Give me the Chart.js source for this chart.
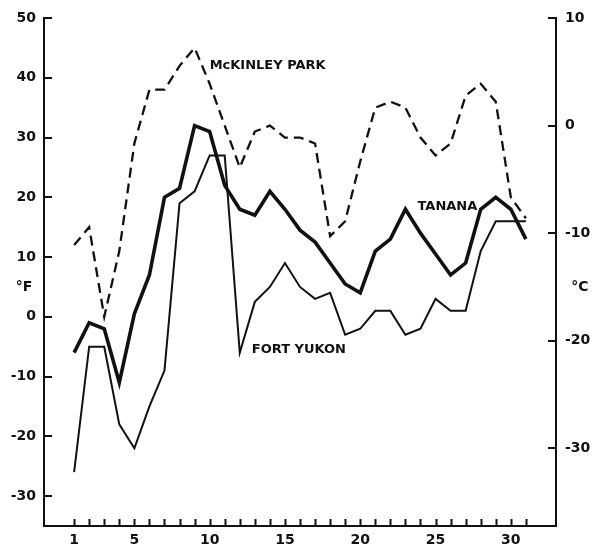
<!DOCTYPE html>
<html>
<head>
<meta charset="utf-8">
<title>Daily temperatures</title>
<script src="https://cdn.jsdelivr.net/npm/chart.js@4.4.1/dist/chart.umd.min.js"></script>
<style>
  html, body { margin: 0; padding: 0; background: #fff; }
  #wrap { width: 594px; height: 548px; }
</style>
</head>
<body>
<div id="wrap"><canvas id="chart" width="594" height="548"></canvas></div>
<script>
// data (°F)
const days = [1, 2, 3, 4, 5, 6, 7, 8, 9, 10, 11, 12, 13, 14, 15, 16, 17, 18, 19, 20, 21, 22, 23, 24, 25, 26, 27, 28, 29, 30, 31];
const mckinleyPark = [12, 15, 0, 11, 29, 38, 38, 42, 45, 39, 32, 25, 31, 32, 30, 30, 29, 13.5, 16, 26, 35, 36, 35, 30, 27, 29, 37, 39, 36, 20, 16.5];
const tanana = [-6, -1, -2, -11, 0.5, 7, 20, 21.5, 32, 31, 22, 18, 17, 21, 18, 14.5, 12.5, 9, 5.5, 4, 11, 13, 18, 14, 10.5, 7, 9, 18, 20, 18, 13];
const fortYukon = [-26, -5, -5, -18, -22, -15, -9, 19, 21, 27, 27, -6, 2.5, 5, 9, 5, 3, 4, -3, -2, 1, 1, -3, -2, 3, 1, 1, 11, 16, 16, 16];

const fTicks = [-30, -20, -10, 0, 10, 20, 30, 40, 50];
const cTicks = [-30, -20, -10, 0, 10];
const dayLabels = [1, 5, 10, 15, 20, 25, 30];

// series names and where they sit (day, °F)
const seriesNames = ["McKINLEY PARK", "TANANA", "FORT YUKON"];
const nameDays = [10.0, 23.8, 12.8];
const nameTemps = [42, 18.4, -5.5];

const fMin = -35, fMax = 50;
const toC = (f) => (f - 32) * 5 / 9;

const FONT = "DejaVu Sans";
const INK = "#111";

function pts(values) {
  return days.map((d, i) => ({ x: d, y: values[i] }));
}

// inward tick marks + text labels
const decorations = {
  id: "decorations",
  afterDraw(chart) {
    const ctx = chart.ctx;
    const area = chart.chartArea;
    const x = chart.scales.x;
    const yF = chart.scales.yF;
    const yC = chart.scales.yC;
    ctx.save();
    ctx.strokeStyle = INK;
    ctx.lineWidth = 2;
    ctx.beginPath();
    days.forEach((d) => {
      const px = Math.round(x.getPixelForValue(d)) + 0.5;
      ctx.moveTo(px, area.bottom);
      ctx.lineTo(px, area.bottom - 7);
    });
    fTicks.forEach((v) => {
      const py = Math.round(yF.getPixelForValue(v));
      ctx.moveTo(area.left, py);
      ctx.lineTo(area.left + 8, py);
    });
    cTicks.forEach((v) => {
      const py = Math.round(yC.getPixelForValue(v));
      ctx.moveTo(area.right, py);
      ctx.lineTo(area.right - 8, py);
    });
    ctx.stroke();

    ctx.fillStyle = INK;
    ctx.font = "bold 13px '" + FONT + "'";
    ctx.textAlign = "left";
    ctx.textBaseline = "middle";
    seriesNames.forEach((name, i) => {
      ctx.fillText(name, x.getPixelForValue(nameDays[i]), yF.getPixelForValue(nameTemps[i]));
    });

    ctx.font = "bold 14px '" + FONT + "'";
    ctx.textAlign = "center";
    ctx.fillText("°F", area.left - 20, yF.getPixelForValue(5));
    ctx.fillText("°C", area.right + 24, yF.getPixelForValue(5));
    ctx.restore();
  },
};

const axisBorder = { display: true, color: INK, width: 2 };
const tickFont = { family: FONT, size: 14, weight: "bold" };

new Chart(document.getElementById("chart"), {
  type: "line",
  data: {
    datasets: [
      {
        label: seriesNames[0],
        data: pts(mckinleyPark),
        borderColor: INK,
        borderWidth: 2.3,
        borderDash: [10, 6],
        yAxisID: "yF",
      },
      {
        label: seriesNames[1],
        data: pts(tanana),
        borderColor: INK,
        borderWidth: 3.6,
        yAxisID: "yF",
      },
      {
        label: seriesNames[2],
        data: pts(fortYukon),
        borderColor: INK,
        borderWidth: 2,
        yAxisID: "yF",
      },
    ],
  },
  options: {
    responsive: false,
    animation: false,
    layout: { padding: { top: 18, left: 0, right: 0, bottom: 0 } },
    elements: {
      point: { radius: 0 },
      line: { tension: 0, borderJoinStyle: "miter", fill: false },
    },
    plugins: {
      legend: { display: false },
      tooltip: { enabled: false },
    },
    scales: {
      x: {
        type: "linear",
        min: -1,
        max: 33,
        grid: { display: false, drawTicks: false },
        border: axisBorder,
        afterBuildTicks(scale) {
          scale.ticks = dayLabels.map((v) => ({ value: v }));
        },
        afterFit(scale) {
          scale.height = 22;
        },
        ticks: {
          autoSkip: false,
          maxRotation: 0,
          padding: 6,
          color: INK,
          font: tickFont,
        },
      },
      yF: {
        type: "linear",
        position: "left",
        min: fMin,
        max: fMax,
        grid: { display: false, drawTicks: false },
        border: axisBorder,
        afterBuildTicks(scale) {
          scale.ticks = fTicks.map((v) => ({ value: v }));
        },
        afterFit(scale) {
          scale.width = 44;
        },
        ticks: { padding: 8, color: INK, font: tickFont },
      },
      yC: {
        type: "linear",
        position: "right",
        min: toC(fMin),
        max: toC(fMax),
        grid: { display: false, drawTicks: false },
        border: axisBorder,
        afterBuildTicks(scale) {
          scale.ticks = cTicks.map((v) => ({ value: v }));
        },
        afterFit(scale) {
          scale.width = 38;
        },
        ticks: { padding: 9, color: INK, font: tickFont },
      },
    },
  },
  plugins: [decorations],
});
</script>
</body>
</html>
